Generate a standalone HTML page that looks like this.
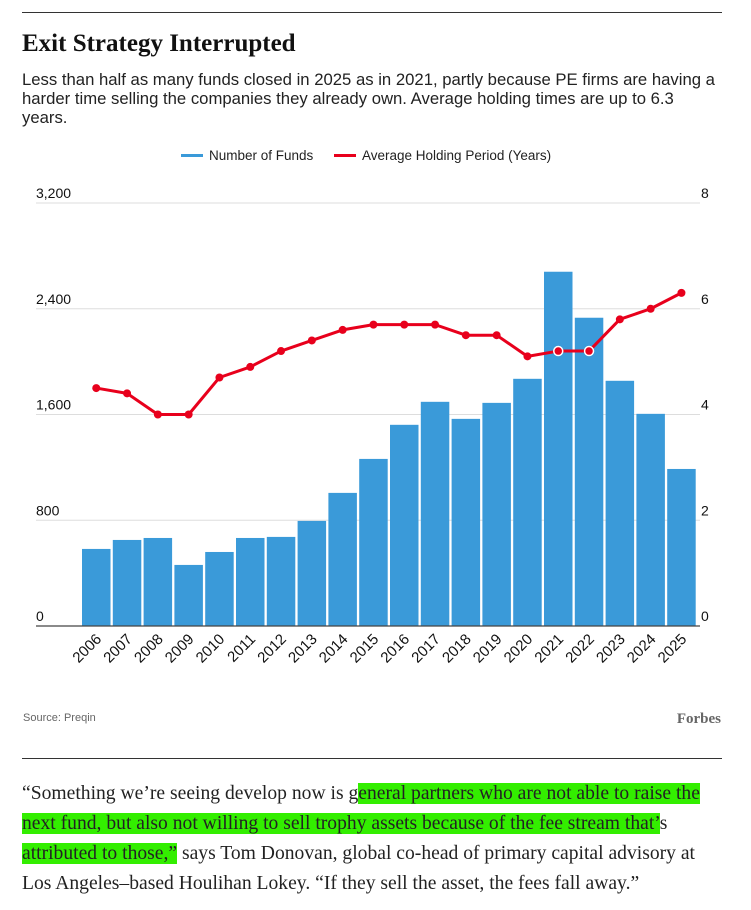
<!DOCTYPE html>
<html><head><meta charset="utf-8"><style>
body{margin:0;background:#fff;width:751px;height:910px;overflow:hidden;font-family:"Liberation Sans",sans-serif;color:#111}
.rule{position:absolute;left:22px;width:700px;height:1px;background:#333}
#title{position:absolute;left:22px;top:30px;font-family:"Liberation Serif",serif;font-weight:bold;font-size:25px;margin:0}
#sub{position:absolute;left:22px;top:70px;white-space:nowrap;font-size:16.7px;line-height:19px;margin:0;color:#222}
#quote{position:absolute;left:22px;top:779px;white-space:nowrap;font-family:"Liberation Serif",serif;font-size:19.6px;line-height:30px;color:#222;margin:0}
.hl{background:#33ee00}
</style></head><body>
<div class="rule" style="top:12px"></div>
<h1 id="title">Exit Strategy Interrupted</h1>
<p id="sub">Less than half as many funds closed in 2025 as in 2021, partly because PE firms are having a<br>harder time selling the companies they already own. Average holding times are up to 6.3<br>years.</p>
<svg id="chart" width="751" height="740" style="position:absolute;left:0;top:0"></svg>
<div class="rule" style="top:758px"></div>
<p id="quote">“Something we’re seeing develop now is g<span class="hl">eneral partners who are not able to raise the<br>next fund, but also not willing to sell trophy assets because of the fee stream that’</span>s<br><span class="hl">attributed to those,”</span> says Tom Donovan, global co-head of primary capital advisory at<br>Los Angeles–based Houlihan Lokey. “If they sell the asset, the fees fall away.”</p>
<script>
const years=["2006","2007","2008","2009","2010","2011","2012","2013","2014","2015","2016","2017","2018","2019","2020","2021","2022","2023","2024","2025"];
const funds=[583,651,666,462,560,666,674,795,1007,1264,1522,1696,1567,1688,1870,2680,2332,1855,1605,1188];
const holding=[4.5,4.4,4.0,4.0,4.7,4.9,5.2,5.4,5.6,5.7,5.7,5.7,5.5,5.5,5.1,5.2,5.2,5.8,6.0,6.3];
const leftTicks=[0,800,1600,2400,3200];
const rightTicks=[0,2,4,6,8];
const hollow=["2021","2022"];
const NS="http://www.w3.org/2000/svg",svg=document.getElementById('chart');
const base=626,top0=203,x0=82,step=30.8,bw=28.5;
const yL=v=>base-(v/3200)*(base-top0);
const yR=v=>base-(v/8)*(base-top0);
const xC=i=>x0+i*step+bw/2;
function mk(t,a,txt){const e=document.createElementNS(NS,t);for(const k in a)e.setAttribute(k,a[k]);if(txt!=null)e.textContent=txt;svg.appendChild(e);return e;}
leftTicks.forEach((v,i)=>{
 if(v>0){const g=mk('line',{x1:36,x2:700,y1:yL(v),y2:yL(v),stroke:'#ddd','stroke-width':1});
 
 }
 const t=mk('text',{x:36,y:yL(v)-5,'font-size':14,fill:'#111'},v.toLocaleString('en-US'));
 
 
});
rightTicks.forEach(v=>{
 const t=mk('text',{x:701,y:yR(v)-5,'font-size':14,fill:'#111'},String(v));
 
 
});
years.forEach((y,i)=>{
 const r=mk('rect',{x:x0+i*step,y:yL(funds[i]),width:bw,height:base-yL(funds[i]),fill:'#3a9ad9'});
 
 
 const cx=xC(i)+6,cy=base+14;
 const t=mk('text',{x:cx,y:cy,'font-size':15,fill:'#111','text-anchor':'end',transform:`rotate(-45 ${cx} ${cy})`},y);
 
 
});
const ax=mk('line',{x1:36,x2:700,y1:base,y2:base,stroke:'#444','stroke-width':1.2});


const pl=mk('polyline',{points:holding.map((v,i)=>xC(i)+','+yR(v)).join(' '),fill:'none',stroke:'#e8001c','stroke-width':3,'stroke-linejoin':'round'});


holding.forEach((v,i)=>{
 const h=hollow.includes(years[i]);
 const c=mk('circle',{cx:xC(i),cy:yR(v),r:h?4.5:4,fill:'#e8001c',stroke:h?'#fff':'none','stroke-width':1.5});
 
 
});
const l1=mk('rect',{x:181,y:154,width:22,height:3,fill:'#3a9ad9'});


const lt1=mk('text',{x:209,y:160,'font-size':13.5,fill:'#222'},'Number of Funds');


const l2=mk('rect',{x:334,y:154,width:22,height:3,fill:'#e8001c'});


const lt2=mk('text',{x:362,y:160,'font-size':13.5,fill:'#222'},'Average Holding Period (Years)');


const src=mk('text',{x:23,y:721,'font-size':11,fill:'#666'},'Source: Preqin');


const fb=mk('text',{x:721,y:723,'font-size':15,'font-weight':'bold','font-family':'Liberation Serif, serif',fill:'#666','text-anchor':'end'},'Forbes');


</script>
</body></html>
